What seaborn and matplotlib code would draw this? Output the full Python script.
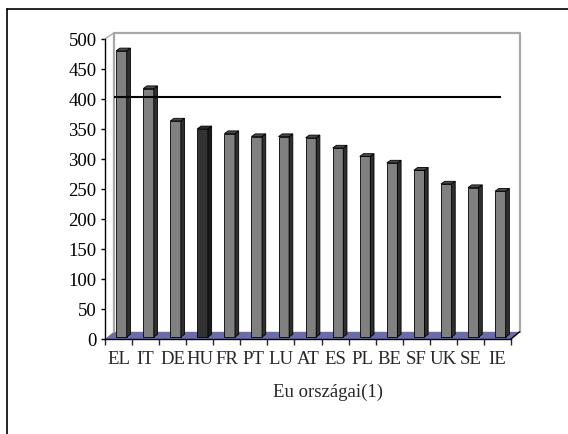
import matplotlib
matplotlib.use("Agg")
import matplotlib.pyplot as plt
import matplotlib.transforms as mtransforms
from matplotlib.lines import Line2D
from matplotlib.patches import Polygon
import numpy as np
import seaborn as sns

# data
countries = ["EL", "IT", "DE", "HU", "FR", "PT", "LU", "AT", "ES", "PL", "BE", "SF", "UK", "SE", "IE"]
values = [477, 414, 360, 347, 339, 334, 334, 332, 315, 301, 290, 278, 255, 249, 243]
highlight = "HU"
ref_level = 404
y_ticks = list(range(0, 501, 50))
x_title = "Eu országai(1)"

sns.set_style("white")
plt.rcParams["font.family"] = ["Liberation Serif", "DejaVu Serif"]

fig = plt.figure(figsize=(5.68, 4.35), dpi=100)
ax = fig.add_axes([105 / 568, 95 / 435, 406 / 568, 300 / 435])

front_col = {c: ("#333333" if c == highlight else "#808080") for c in countries}
sns.barplot(x=countries, y=values, hue=countries, palette=front_col, legend=False,
            width=0.39, saturation=1, edgecolor="black", linewidth=0.6, ax=ax, zorder=3)

ax.set_xlim(-0.5, 14.5)
ax.set_ylim(0, 500)

# small 3d look: shift bars into the depth, add side and top faces
shift = ax.transData + mtransforms.ScaledTranslation(0.029, 0.02, fig.dpi_scale_trans)
ddx, ddy = 0.137, 4.5
bars = sorted(ax.patches, key=lambda p: p.get_x())
for bar, c in zip(bars, countries):
    bar.set_transform(shift)
    x0 = bar.get_x()
    x1 = x0 + bar.get_width()
    h = bar.get_height()
    side_c = "#1a1a1a" if c == highlight else "#2e2e2e"
    top_c = "#2a2a2a" if c == highlight else "#4a4a4a"
    side = Polygon([(x1, 0), (x1 + ddx, ddy), (x1 + ddx, h + ddy), (x1, h)],
                   closed=True, facecolor=side_c, edgecolor="black", lw=0.6,
                   transform=shift, zorder=3, clip_on=False)
    top = Polygon([(x0, h), (x1, h), (x1 + ddx, h + ddy), (x0 + ddx, h + ddy)],
                  closed=True, facecolor=top_c, edgecolor="black", lw=0.6,
                  transform=shift, zorder=3, clip_on=False)
    ax.add_patch(side)
    ax.add_patch(top)

# walls and floor
wx, wy = 0.32, 12
floor = Polygon([(-0.5, 0), (14.5, 0), (14.5 + wx, wy), (-0.5 + wx, wy)], closed=True,
                facecolor="#6b6ba8", edgecolor="none", zorder=1, clip_on=False)
ax.add_patch(floor)
ax.plot([-0.5 + wx, -0.5 + wx, 14.5 + wx, 14.5 + wx], [wy, 510, 510, wy],
        color="#a8a8a8", lw=1.6, zorder=1, clip_on=False)
ax.plot([-0.5, -0.5 + wx], [500, 510], color="#a8a8a8", lw=1.0, zorder=1, clip_on=False)
ax.plot([14.5, 14.5 + wx], [0, wy], color="black", lw=1.0, zorder=2, clip_on=False)

ax.hlines(ref_level, -0.5 + wx, 14.13, color="black", lw=1.5, zorder=5)

# axes styling
for s in ["top", "right"]:
    ax.spines[s].set_visible(False)
for s in ["left", "bottom"]:
    ax.spines[s].set_color("black")
    ax.spines[s].set_linewidth(1.0)

ax.set_yticks(y_ticks)
ax.set_yticklabels([str(t) for t in y_ticks], fontsize=13.5)
ax.tick_params(axis="y", direction="out", length=3, width=1, pad=3, left=True, colors="black")

ax.set_xticks(np.arange(-0.5, 15, 1))
ax.set_xticklabels([""] * 16)
ax.set_xticks(np.arange(15), minor=True)
ax.set_xticklabels(countries, minor=True, fontsize=13.5)
ax.tick_params(axis="x", which="major", direction="out", length=4, width=1, bottom=True)
ax.tick_params(axis="x", which="minor", length=0, pad=8)
ax.set_xlabel("")
ax.set_ylabel("")
ax.grid(False)

fig.text(328 / 568, 1 - 392 / 435, x_title, ha="center", va="center", fontsize=13.5)

# outer chart frame (only left and top edges are visible in the crop)
fig.add_artist(Line2D([7 / 568, 7 / 568], [0, 1 - 10 / 435], color="black", lw=1.2))
fig.add_artist(Line2D([7 / 568, 1], [1 - 10 / 435, 1 - 10 / 435], color="black", lw=1.2))

fig.savefig("out.png", dpi=100)
plt.close(fig)
